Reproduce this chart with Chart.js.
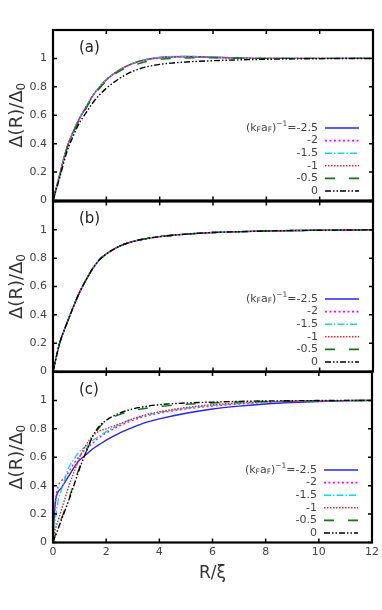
<!DOCTYPE html>
<html>
<head>
<meta charset="utf-8">
<script src="https://cdn.jsdelivr.net/npm/chart.js@4.4.1/dist/chart.umd.min.js"></script>
<style>
  html, body { margin: 0; padding: 0; background: #fff; }
  #wrap { position: relative; width: 382px; height: 610px; }
  canvas { position: absolute; left: 0; top: 0; }
</style>
</head>
<body>
<div id="wrap">
  <canvas id="chartA" width="382" height="610"></canvas>
  <canvas id="chartB" width="382" height="610"></canvas>
  <canvas id="chartC" width="382" height="610"></canvas>
</div>
<script>
// R/xi sample points
const rAB = [0, 0.25, 0.5, 0.75, 1, 1.25, 1.5, 1.75, 2, 2.5, 3, 3.5, 4, 4.5, 5, 6, 7, 8, 10, 12];
const rC = [0, 0.05, 0.1, 0.2, 0.3, 0.4, 0.5, 0.6, 0.8, 1, 1.25, 1.5, 1.75, 2, 2.5, 3, 3.5, 4, 5, 6, 7, 8, 9, 10, 11, 12];

// legend values of (kF aF)^-1
const couplings = ["-2.5", "-2", "-1.5", "-1", "-0.5", "0"];
const xTicks = [0, 2, 4, 6, 8, 10, 12];
const yTicks = [0, 0.2, 0.4, 0.6, 0.8, 1, 1.2];

// panel (a)
const aMinus25 = [0, 0.18, 0.36, 0.48, 0.58, 0.66, 0.74, 0.8, 0.85, 0.92, 0.965, 0.992, 1.006, 1.012, 1.013, 1.008, 1.003, 1.0, 1.0, 1.0];
const aMinus2 = [0, 0.18, 0.36, 0.48, 0.58, 0.66, 0.74, 0.8, 0.85, 0.92, 0.964, 0.991, 1.005, 1.011, 1.012, 1.008, 1.003, 1.0, 1.0, 1.0];
const aMinus15 = [0, 0.18, 0.36, 0.48, 0.58, 0.66, 0.74, 0.8, 0.85, 0.92, 0.965, 0.992, 1.007, 1.013, 1.014, 1.009, 1.003, 1.0, 1.0, 1.0];
const aMinus1 = [0, 0.18, 0.36, 0.48, 0.58, 0.66, 0.74, 0.8, 0.85, 0.92, 0.963, 0.99, 1.004, 1.01, 1.011, 1.007, 1.002, 1.0, 1.0, 1.0];
const aMinus05 = [0, 0.17, 0.35, 0.47, 0.57, 0.65, 0.73, 0.79, 0.84, 0.91, 0.95, 0.978, 0.993, 1.0, 1.003, 1.004, 1.002, 1.0, 1.0, 1.0];
const aZero = [0, 0.16, 0.33, 0.45, 0.55, 0.62, 0.69, 0.745, 0.79, 0.86, 0.91, 0.94, 0.958, 0.968, 0.975, 0.984, 0.99, 0.994, 0.998, 1.0];

// panel (b): all six curves lie on top of each other
const bAll = [0, 0.2, 0.33, 0.45, 0.56, 0.65, 0.73, 0.79, 0.83, 0.885, 0.918, 0.938, 0.952, 0.962, 0.97, 0.981, 0.987, 0.992, 0.997, 1.0];

// panel (c)
const cMinus25 = [0, 0.2, 0.3, 0.36, 0.38, 0.41, 0.44, 0.47, 0.53, 0.58, 0.62, 0.66, 0.69, 0.72, 0.77, 0.81, 0.845, 0.87, 0.91, 0.94, 0.96, 0.975, 0.985, 0.992, 0.997, 1.0];
const cMinus2 = [0, 0.18, 0.3, 0.4, 0.43, 0.45, 0.47, 0.5, 0.56, 0.61, 0.66, 0.7, 0.74, 0.77, 0.82, 0.86, 0.89, 0.91, 0.94, 0.96, 0.975, 0.985, 0.992, 0.996, 0.998, 1.0];
const cMinus15 = [0, 0.1, 0.18, 0.3, 0.36, 0.42, 0.48, 0.53, 0.59, 0.64, 0.68, 0.72, 0.75, 0.78, 0.83, 0.87, 0.895, 0.915, 0.945, 0.965, 0.978, 0.987, 0.993, 0.997, 0.999, 1.0];
const cMinus1 = [0, 0.06, 0.1, 0.16, 0.22, 0.28, 0.34, 0.4, 0.5, 0.6, 0.69, 0.75, 0.785, 0.8, 0.835, 0.87, 0.9, 0.92, 0.95, 0.97, 0.982, 0.99, 0.994, 0.997, 0.999, 1.0];
const cMinus05 = [0, 0.03, 0.06, 0.11, 0.16, 0.21, 0.26, 0.31, 0.42, 0.53, 0.64, 0.74, 0.81, 0.86, 0.9, 0.93, 0.945, 0.957, 0.972, 0.982, 0.989, 0.993, 0.996, 0.998, 0.999, 1.0];
const cZero = [0, 0.03, 0.05, 0.1, 0.15, 0.2, 0.25, 0.3, 0.41, 0.52, 0.64, 0.75, 0.82, 0.86, 0.91, 0.94, 0.958, 0.97, 0.982, 0.988, 0.993, 0.996, 0.998, 0.999, 1.0, 1.0];

// line styles, gnuplot-like
const colors = ["#2323ff", "#ff00ff", "#00e0e8", "#ff1a1a", "#0a7a0a", "#000000"];
const dashes = [[], [2, 2.5], [7, 2, 1.5, 2], [1.5, 1.5], [10, 14], [6, 2, 1.5, 2, 1.5, 2]];

const FONT = "DejaVu Sans";

function toPoints(xs, ys) {
  return ys.map((v, i) => ({ x: xs[i], y: v }));
}

function drawRich(ctx, parts, xRight, yMid) {
  let w = 0;
  for (const p of parts) {
    ctx.font = p.size + "px '" + FONT + "'";
    w += ctx.measureText(p.t).width;
  }
  let x = xRight - w;
  for (const p of parts) {
    ctx.font = p.size + "px '" + FONT + "'";
    ctx.fillText(p.t, x, yMid + (p.dy || 0));
    x += ctx.measureText(p.t).width;
  }
}

const framePlugin = {
  id: "frame",
  afterDatasetsDraw(chart, args, opts) {
    const { ctx, chartArea: a } = chart;
    const x = chart.scales.x, y = chart.scales.y;
    ctx.save();
    // inward ticks on all four sides
    ctx.strokeStyle = "#000";
    ctx.lineWidth = 1.5;
    ctx.beginPath();
    for (const t of xTicks) {
      const px = x.getPixelForValue(t);
      ctx.moveTo(px, a.bottom); ctx.lineTo(px, a.bottom - 4);
      ctx.moveTo(px, a.top); ctx.lineTo(px, a.top + 4);
    }
    for (const t of yTicks) {
      const py = y.getPixelForValue(t);
      ctx.moveTo(a.left, py); ctx.lineTo(a.left + 4, py);
      ctx.moveTo(a.right, py); ctx.lineTo(a.right - 4, py);
    }
    ctx.stroke();
    ctx.lineWidth = 2.2;
    ctx.strokeRect(a.left, a.top, a.right - a.left, a.bottom - a.top);

    // panel tag
    ctx.fillStyle = "#222";
    ctx.textBaseline = "middle";
    ctx.textAlign = "left";
    ctx.font = "15px '" + FONT + "'";
    ctx.fillText(opts.tag, a.left + 26, a.top + 18);

    // key, bottom right
    ctx.fillStyle = "#444";
    chart.data.datasets.forEach((ds, i) => {
      const ry = a.bottom - 9.5 - 12.6 * (couplings.length - 1 - i);
      const parts = [];
      if (i === 0) {
        parts.push({ t: "(k", size: 11 }, { t: "F", size: 7.5, dy: 2 }, { t: "a", size: 11 },
          { t: "F", size: 7.5, dy: 2 }, { t: ")", size: 11 }, { t: "\u22121", size: 7.5, dy: -4 });
        parts.push({ t: "=" + couplings[i], size: 11 });
      } else {
        parts.push({ t: couplings[i], size: 11 });
      }
      drawRich(ctx, parts, a.right - 55, ry);
      ctx.strokeStyle = ds.borderColor;
      ctx.lineWidth = 1.6;
      ctx.setLineDash(ds.borderDash || []);
      ctx.beginPath();
      ctx.moveTo(a.right - 48, ry);
      ctx.lineTo(a.right - 14, ry);
      ctx.stroke();
      ctx.setLineDash([]);
    });

    // y axis title with subscript
    ctx.translate(17, (a.top + a.bottom) / 2);
    ctx.rotate(-Math.PI / 2);
    ctx.fillStyle = "#333";
    ctx.font = "18px '" + FONT + "'";
    const main = "\u0394(R)/\u0394";
    const w1 = ctx.measureText(main).width;
    ctx.font = "12px '" + FONT + "'";
    const w2 = ctx.measureText("0").width;
    const x0 = -(w1 + w2) / 2;
    ctx.font = "18px '" + FONT + "'";
    ctx.fillText(main, x0, 0);
    ctx.font = "12px '" + FONT + "'";
    ctx.fillText("0", x0 + w1, 5);
    ctx.restore();
  }
};

function makeChart(id, xs, series, top, bottom, tag, showX) {
  const xh = showX ? 41 : 0;
  return new Chart(document.getElementById(id), {
    type: "line",
    data: {
      datasets: series.map((ys, i) => ({
        label: couplings[i],
        data: toPoints(xs, ys),
        borderColor: colors[i],
        borderDash: dashes[i],
        borderWidth: 1.4,
        pointRadius: 0,
        cubicInterpolationMode: "monotone",
        fill: false,
        order: 6 - i,
      })),
    },
    options: {
      responsive: false,
      animation: false,
      layout: { padding: { top: top, bottom: 610 - bottom - xh, left: 0, right: 9 } },
      plugins: {
        legend: { display: false },
        tooltip: { enabled: false },
        frame: { tag: tag },
      },
      scales: {
        x: {
          type: "linear",
          min: 0,
          max: 12,
          ticks: { stepSize: 2, display: showX, padding: 3, color: "#444", font: { family: FONT, size: 11 } },
          grid: { display: false, drawTicks: false },
          border: { display: false },
          title: { display: showX, text: "R/\u03BE", color: "#333", padding: 0, font: { family: FONT, size: 17 } },
          afterFit: (s) => { s.height = xh; },
        },
        y: {
          min: 0,
          max: 1.2,
          ticks: {
            stepSize: 0.2,
            padding: 6,
            color: "#444",
            font: { family: FONT, size: 11 },
            callback: (v) => (v > 1.05 ? "" : String(Math.round(v * 10) / 10)),
          },
          grid: { display: false, drawTicks: false },
          border: { display: false },
          afterFit: (s) => { s.width = 53; },
        },
      },
    },
    plugins: [framePlugin],
  });
}

makeChart("chartA", rAB, [aMinus25, aMinus2, aMinus15, aMinus1, aMinus05, aZero], 30, 200.5, "(a)", false);
makeChart("chartB", rAB, [bAll, bAll, bAll, bAll, bAll, bAll], 201.5, 371.5, "(b)", false);
makeChart("chartC", rC, [cMinus25, cMinus2, cMinus15, cMinus1, cMinus05, cZero], 372, 542.5, "(c)", true);
</script>
</body>
</html>
